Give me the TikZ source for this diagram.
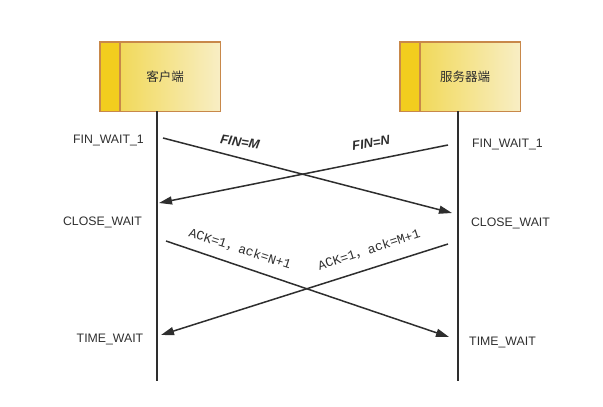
\documentclass[tikz,border=0pt]{standalone}
\usepackage{fontspec}
\setmainfont{Liberation Sans}
\newfontfamily\cjk{Noto Sans CJK SC}
\newfontfamily\monof{Liberation Mono}
\usetikzlibrary{arrows.meta,calc}
\definecolor{gold}{HTML}{F2CD1E}
\definecolor{goldl}{HTML}{F0D545}
\definecolor{pale}{HTML}{F8EEC4}
\definecolor{edge}{HTML}{C8884A}
\definecolor{ink}{HTML}{2E2E2E}
\tikzset{
  hostbox/.style={rectangle, minimum width=120pt, minimum height=69pt, inner sep=0pt,
    left color=goldl, right color=pale},
  hostlab/.style={font=\cjk\fontsize{12.5}{14}\selectfont, text=ink},
  state/.style={font=\fontsize{12.3}{14}\selectfont, text=ink, inner sep=0pt},
  life/.style={line width=1.6pt, draw=ink},
  msg/.style={line width=1.5pt, draw=ink, -{Triangle[length=13pt,width=8pt]}},
  finlab/.style={font=\bfseries\itshape\fontsize{13}{14}\selectfont, text=ink, inner sep=0pt},
  acklab/.style={font=\monof\fontsize{13}{14}\selectfont, text=ink, inner sep=0pt}
}
\begin{document}
\begin{tikzpicture}[x=1pt,y=-1pt]
\useasboundingbox (0,0) rectangle (603,407);
% host boxes
\node[hostbox] (client) at (160,76.5) {};
\fill[gold] (client.north west) rectangle ($(client.south west)+(20,0)$);
\draw[edge, line width=1.4pt] (client.north west) rectangle (client.south east);
\draw[edge, line width=1.4pt] ($(client.north west)+(20,0)$) -- ($(client.south west)+(20,0)$);
\node[hostlab] (clientlab) at (165,76.5) {客户端};

\node[hostbox] (server) at (460,76.5) {};
\fill[gold] (server.north west) rectangle ($(server.south west)+(20,0)$);
\draw[edge, line width=1.4pt] (server.north west) rectangle (server.south east);
\draw[edge, line width=1.4pt] ($(server.north west)+(20,0)$) -- ($(server.south west)+(20,0)$);
\node[hostlab] (serverlab) at (465,76.5) {服务器端};

% lifelines
\coordinate (cend) at (157,381);
\coordinate (send) at (458,381);
\draw[life] (157,111) -- (cend);
\draw[life] (458,111) -- (send);

% state labels
\node[state] (c1) at (108.5,140) {FIN\_WAIT\_1};
\node[state] (c2) at (102.5,222) {CLOSE\_WAIT};
\node[state] (c3) at (110,339) {TIME\_WAIT};
\node[state] (s1) at (507.5,144) {FIN\_WAIT\_1};
\node[state] (s2) at (510.5,223) {CLOSE\_WAIT};
\node[state] (s3) at (502.5,342) {TIME\_WAIT};

% message endpoints
\coordinate (a1) at (163,138);
\coordinate (a2) at (452,213);
\coordinate (b1) at (448,145);
\coordinate (b2) at (159,203);
\coordinate (c1s) at (166,241);
\coordinate (c1e) at (449,337);
\coordinate (d1) at (448,244);
\coordinate (d2) at (161,335);

\draw[msg] (a1) -- (a2);
\draw[msg] (b1) -- (b2);
\draw[msg] (c1s) -- (c1e);
\draw[msg] (d1) -- (d2);

% message labels
\node[finlab, rotate=-9] (lm) at (240,142) {FIN=M};
\node[finlab, rotate=9] (ln) at (371,143) {FIN=N};
\node[acklab, rotate=-18] (lk1) at (240,249) {ACK=1{\cjk，}ack=N+1};
\node[acklab, rotate=18] (lk2) at (369,250) {ACK=1{\cjk，}ack=M+1};
\end{tikzpicture}
\end{document}
